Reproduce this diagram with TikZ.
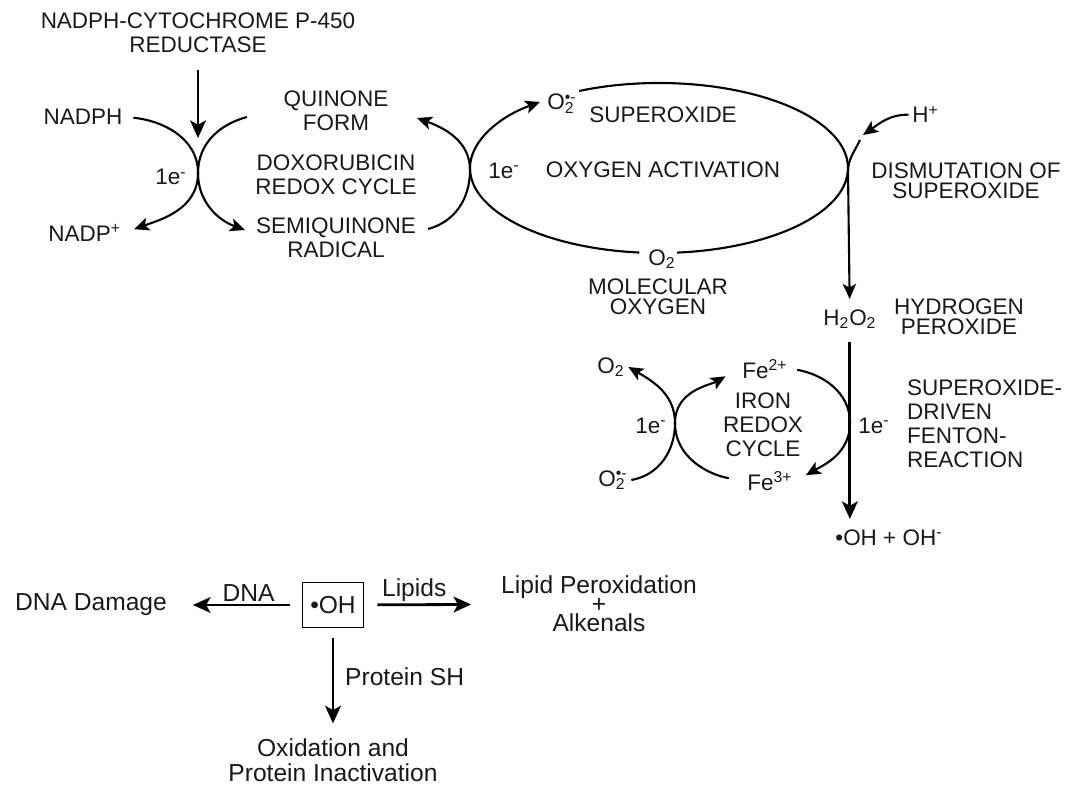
\documentclass[tikz,border=0pt]{standalone}
\usepackage{fontspec}
\setmainfont{Liberation Sans}
\usetikzlibrary{arrows.meta}

\newcommand{\superox}{O\rlap{\textsubscript{2}}\textsuperscript{\textbullet-}}

\tikzset{
  lbl/.style={font=\fontsize{12.8}{13.6}\selectfont, align=center, inner sep=1pt, text=black!90},
  chem/.style={font=\fontsize{12.8}{13.6}\selectfont, anchor=base west, inner xsep=2pt, inner ysep=0pt, text=black!90},
  blbl/.style={font=\fontsize{14}{14.2}\selectfont, align=center, inner sep=1pt, text=black!90},
  arr/.style={line width=1.2pt, -{Stealth[length=8.5pt,width=7.5pt,inset=2pt]}},
  barr/.style={line width=1.6pt, -{Stealth[length=10pt,width=9pt,inset=2.5pt]}},
  cyc/.style={line width=1.2pt}
}

\begin{document}
\begin{tikzpicture}[x=0.02cm, y=0.02cm]
        \useasboundingbox (0,0) rectangle (1074,-787);

        \node[lbl] (enz) at (198,-33) {NADPH-CYTOCHROME P-450\\REDUCTASE};
        \node[lbl] (nadph) at (83,-117) {NADPH};
        \node[chem] (nadpp) at (44.5,-241) {NADP\textsuperscript{+}};
        \node[chem] (e1a) at (151.5,-185) {1e\textsuperscript{-}};
        \node[lbl] (quin) at (336,-111) {QUINONE\\FORM};
        \node[lbl] (doxo) at (336,-175) {DOXORUBICIN\\REDOX CYCLE};
        \node[lbl] (semi) at (336,-238) {SEMIQUINONE\\RADICAL};

        \node[chem] (e1b) at (484.5,-178) {1e\textsuperscript{-}};
        \node[chem] (supo) at (543.5,-110) {\superox};
        \node[lbl] (supname) at (663,-115) {SUPEROXIDE};
        \node[lbl] (oxact) at (663,-170) {OXYGEN ACTIVATION};
        \node[chem] (o2b) at (644.5,-265) {O\textsubscript{2}};
        \node[lbl] (molox) at (658,-297) {MOLECULAR\\[-2pt]OXYGEN};

        \node[chem] (hplus) at (908.5,-123) {H\textsuperscript{+}};
        \node[lbl] (dism) at (966,-181) {DISMUTATION OF\\[-2pt]SUPEROXIDE};
        \node[chem] (h2o2) at (819.5,-325) {H\textsubscript{2}O\textsubscript{2}};
        \node[lbl] (hperox) at (959,-317) {HYDROGEN\\[-2pt]PEROXIDE};

        \node[chem] (o2r) at (593.5,-373) {O\textsubscript{2}};
        \node[chem] (sup2) at (594.5,-486) {\superox};
        \node[chem] (e1c) at (631.5,-433) {1e\textsuperscript{-}};
        \node[chem] (fe2) at (738.5,-378) {Fe\textsuperscript{2+}};
        \node[chem] (fe3) at (743.5,-490) {Fe\textsuperscript{3+}};
        \node[lbl] (iron) at (763,-425) {IRON\\REDOX\\CYCLE};
        \node[chem] (e1d) at (854.5,-433) {1e\textsuperscript{-}};
        \node[lbl, anchor=west, align=left] (fenton) at (905,-424) {SUPEROXIDE-\\DRIVEN\\FENTON-\\REACTION};
        \node[chem] (ohoh) at (831.5,-545) {\textbullet OH + OH\textsuperscript{-}};

        \node[blbl, draw, line width=1pt, minimum width=1.22cm, minimum height=0.9cm] (oh) at (333,-605) {\textbullet OH};
        \node[blbl] (dna) at (91,-605) {DNA Damage};
        \node[blbl] (lip) at (599,-604) {Lipid Peroxidation\\[-3.4pt]+\\[-3.4pt]Alkenals};
        \node[blbl] (oxid) at (333,-760) {Oxidation and\\Protein Inactivation};

        \coordinate (xa) at (198,-173);
        \coordinate (xb) at (470,-170);
        \coordinate (xc) at (848,-172);
        \coordinate (xd) at (675,-423);
        \coordinate (xe) at (850,-423);
        \coordinate (oxc) at (659,-168);
        \coordinate (qfrom) at (247,-117);
        \coordinate (sto) at (245,-230);
        \coordinate (sfrom) at (428,-229);
        \coordinate (qto) at (417,-118);
        \coordinate (dis) at (860,-140);
        \coordinate (htip) at (863,-135);

        \draw[barr, shorten <=0.3cm, shorten >=0.7cm] (enz) -- (xa);
        \draw[arr, shorten <=0.18cm, shorten >=0.2cm] (nadph.east) to[out=-5,in=90] (xa) to[out=-90,in=20] (nadpp.east);
        \draw[arr] (qfrom) to[out=195,in=90] (xa) to[out=-90,in=160] (sto);
        \draw[arr] (sfrom) to[out=15,in=-90] (xb) to[out=90,in=-20] (qto);

        \draw[arr] (oxc) ++(264:189 and 85) arc[start angle=264, end angle=129, x radius=189, y radius=85];
        \draw[cyc] (oxc) ++(115:189 and 85) arc[start angle=115, end angle=-84.5, x radius=189, y radius=85];

        \draw[arr] (hplus.west) to[out=180,in=35] (htip);
        \draw[arr, shorten >=0.2cm] (dis) to[out=-115,in=90] (xc) -- (h2o2);
        \draw[barr, shorten <=0.26cm, shorten >=0.2cm] (h2o2.south) -- (h2o2.south |- ohoh.north);

        \draw[arr] (sup2.east) to[out=10,in=-90] (xd) to[out=90,in=-30] (o2r.east);
        \draw[arr, shorten <=0.3cm, shorten >=0.3cm] (fe3.west) to[out=170,in=-90] (xd) to[out=90,in=210] (fe2.west);
        \draw[arr, shorten <=0.12cm, shorten >=0.22cm] (fe2.east) to[out=-10,in=90] (xe) to[out=-90,in=30] (fe3.east);

        \draw[barr, shorten <=0.24cm, shorten >=0.48cm] (oh) -- node[blbl, above, pos=0.4] (dnalbl) {DNA} (dna);
        \draw[barr, shorten <=0.26cm, shorten >=0.56cm] (oh) -- node[blbl, above, pos=0.37] (liplbl) {Lipids} (lip);
        \draw[barr, shorten <=0.2cm, shorten >=0.26cm] (oh) -- node[blbl, right=0.18cm, pos=0.45] (protlbl) {Protein SH} (oxid);
\end{tikzpicture}
\end{document}
